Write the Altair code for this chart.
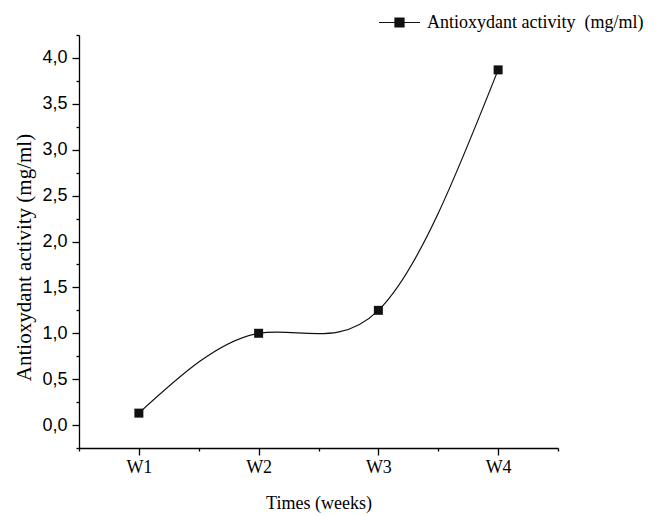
import altair as alt
import pandas as pd

# Antioxidant activity measured weekly
weeks = ["W1", "W2", "W3", "W4"]
activity = [0.13, 1.0, 1.25, 3.87]
series_name = "Antioxydant activity\u00a0 (mg/ml)"

df = pd.DataFrame({
    "week": weeks,
    "pos": list(range(1, len(weeks) + 1)),
    "activity": activity,
    "series": [series_name] * len(weeks),
})

week_labels = "[" + ",".join(f"'{w}'" for w in weeks) + "]"
y_major = [i * 0.5 for i in range(0, 9)]
y_minor = [i * 0.5 + 0.25 for i in range(-1, 9)]
x_ticks = [0.5 * i for i in range(1, 10)]
y_domain = [-0.25, 4.25]

is_whole = "abs(datum.value - round(datum.value)) < 1e-6"

x_enc = alt.X(
    "pos:Q",
    scale=alt.Scale(domain=[0.5, 4.5], nice=False, zero=False),
    axis=alt.Axis(
        values=x_ticks,
        labelExpr=f"{is_whole} ? {week_labels}[round(datum.value) - 1] : ''",
        labelOverlap=False,
        tickSize={"condition": {"test": is_whole, "value": 7}, "value": 3},
        grid=False,
        domainColor="black",
        domainWidth=1.3,
        tickColor="black",
        tickWidth=1.3,
        labelFont="Liberation Serif",
        labelFontSize=18,
        labelColor="black",
        labelPadding=3,
        title="Times (weeks)",
        titleFont="Liberation Serif",
        titleFontSize=18,
        titleFontWeight="normal",
        titleColor="black",
        titleBaseline="alphabetic",
        titleY=60,
    ),
)

y_main = alt.Y(
    "activity:Q",
    scale=alt.Scale(domain=y_domain, nice=False, zero=False),
    axis=alt.Axis(
        orient="left",
        values=y_major,
        labelExpr="replace(format(datum.value, '.1f'), '.', ',')",
        labelOverlap=False,
        tickSize=7,
        grid=False,
        domainColor="black",
        domainWidth=1.3,
        tickColor="black",
        tickWidth=1.3,
        labelFont="Liberation Sans",
        labelFontSize=18,
        labelColor="black",
        labelPadding=5,
        title="Antioxydant activity (mg/ml)",
        titleFont="Liberation Serif",
        titleFontSize=21,
        titleFontWeight="normal",
        titleColor="black",
        titleX=-55,
        titleY=222,
        titleAlign="center",
        titleBaseline="middle",
    ),
)

# Same domain on a second scale: this axis only carries the minor ticks
y_minor_enc = alt.Y(
    "activity:Q",
    scale=alt.Scale(domain=y_domain, nice=False, zero=False),
    axis=alt.Axis(
        orient="left",
        values=y_minor,
        tickSize=3,
        labels=False,
        domain=False,
        title=None,
        grid=False,
        tickColor="black",
        tickWidth=1.3,
    ),
)

legend_symbol = (
    "M-1,0L-0.22,0M0.22,0L1,0"
    "M-0.22,-0.22L0.22,-0.22L0.22,0.22L-0.22,0.22Z"
)

base = alt.Chart(df)

curve = base.mark_line(interpolate="natural", strokeWidth=1.2).encode(
    x=x_enc,
    y=y_main,
    color=alt.Color(
        "series:N",
        scale=alt.Scale(range=["#111111"]),
        legend=alt.Legend(
            title=None,
            orient="none",
            legendX=299,
            legendY=-34,
            padding=0,
            symbolType=legend_symbol,
            symbolSize=1681,
            symbolFillColor="#111111",
            symbolStrokeColor="#111111",
            symbolStrokeWidth=1.2,
            labelFont="Liberation Serif",
            labelFontSize=18,
            labelColor="black",
            labelOffset=6,
            labelLimit=400,
        ),
    ),
)

markers = base.mark_point(shape="square", filled=True, size=81, opacity=1, color="#111111").encode(
    x="pos:Q",
    y=y_minor_enc,
)

chart = (
    alt.layer(curve, markers)
    .resolve_scale(y="independent")
    .properties(
        width=479,
        height=413,
        autosize=alt.AutoSizeParams(type="none"),
        padding={"left": 79, "top": 35, "right": 101, "bottom": 68},
        background="white",
    )
    .configure_view(stroke=None)
)

chart.save("out.html", embed_options={"renderer": "svg", "actions": False})
